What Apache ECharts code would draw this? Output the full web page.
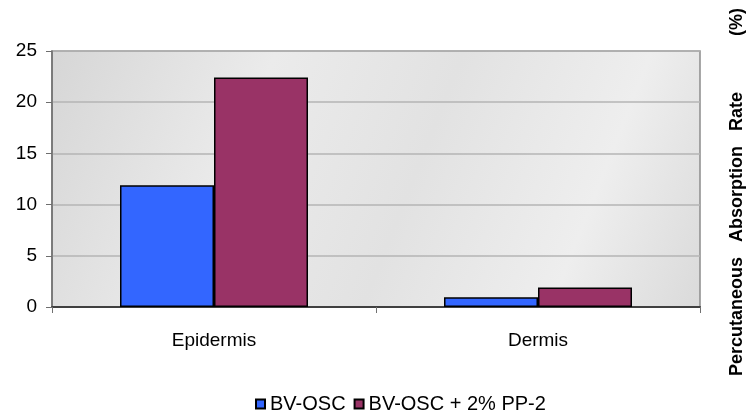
<!DOCTYPE html>
<html>
<head>
<meta charset="utf-8">
<script src="https://cdn.jsdelivr.net/npm/echarts@6/dist/echarts.min.js"></script>
<style>
	html, body { margin: 0; padding: 0; background: #fff; }
	#chart { width: 746px; height: 412px; }
</style>
</head>
<body>
<div id="chart"></div>
<script>
const categories = ['Epidermis', 'Dermis']
const seriesNames = ['BV-OSC', 'BV-OSC + 2% PP-2']
const bvOsc = [11.9, 0.95]
const bvOscPP2 = [22.4, 1.9]
const yTicks = [0, 5, 10, 15, 20, 25]

const chart = echarts.init(document.getElementById('chart'))

const font = 'Arial, "Liberation Sans", sans-serif'

const option = {
	animation: false,
	backgroundColor: '#ffffff',
	textStyle: { fontFamily: font },
	grid: {
		left: 52,
		top: 51,
		right: 46,
		bottom: 105,
		show: true,
		borderColor: '#8c8c8c',
		borderWidth: 1.5,
		backgroundColor: {
			type: 'linear',
			x: 0, y: 0, x2: 1, y2: 1,
			colorStops: [
				{ offset: 0, color: '#d6d6d6' },
				{ offset: 0.3, color: '#ebebeb' },
				{ offset: 0.55, color: '#e2e2e2' },
				{ offset: 0.8, color: '#eeeeee' },
				{ offset: 1, color: '#dadada' },
			],
		},
	},
	legend: {
		data: seriesNames,
		top: 389,
		left: 250,
		itemWidth: 9,
		itemHeight: 9,
		itemGap: 8,
		icon: 'rect',
		textStyle: { fontSize: 20, color: '#000', fontFamily: font, padding: [0, 0, 0, 0] },
	},
	xAxis: {
		type: 'category',
		data: categories,
		axisLine: { lineStyle: { color: '#404040', width: 2 } },
		axisTick: { show: true, length: 6, lineStyle: { color: '#707070', width: 1 } },
		axisLabel: { fontSize: 19, color: '#000', margin: 24, fontFamily: font },
	},
	yAxis: {
		type: 'value',
		min: yTicks[0],
		max: yTicks[yTicks.length - 1],
		interval: 5,
		axisLine: { show: true, lineStyle: { color: '#6e6e6e', width: 1.5 } },
		axisTick: { show: true, length: 6, lineStyle: { color: '#6e6e6e' } },
		axisLabel: { fontSize: 19, color: '#000', margin: 15, fontFamily: font },
		splitLine: { lineStyle: { color: '#b4b4b4', width: 1.5 } },
	},
	series: [
		{
			name: seriesNames[0],
			type: 'bar',
			data: bvOsc,
			barWidth: 94,
			barGap: '0%',
			itemStyle: { color: '#3366ff', borderColor: '#000', borderWidth: 1.5 },
		},
		{
			name: seriesNames[1],
			type: 'bar',
			data: bvOscPP2,
			barWidth: 94,
			barGap: '0%',
			itemStyle: { color: '#993366', borderColor: '#000', borderWidth: 1.5 },
		},
	],
	graphic: [
		{
			type: 'text',
			x: 737,
			y: 376,
			rotation: Math.PI / 2,
			style: {
				text: 'Percutaneous   Absorption   Rate',
				font: 'bold 18px Arial, "Liberation Sans", sans-serif',
				fill: '#000',
				textAlign: 'left',
				textVerticalAlign: 'middle',
			},
		},
		{
			type: 'text',
			x: 737,
			y: 36,
			rotation: Math.PI / 2,
			style: {
				text: '(%)',
				font: 'bold 18px Arial, "Liberation Sans", sans-serif',
				fill: '#000',
				textAlign: 'left',
				textVerticalAlign: 'middle',
			},
		},
	],
}

chart.setOption(option)
</script>
</body>
</html>
